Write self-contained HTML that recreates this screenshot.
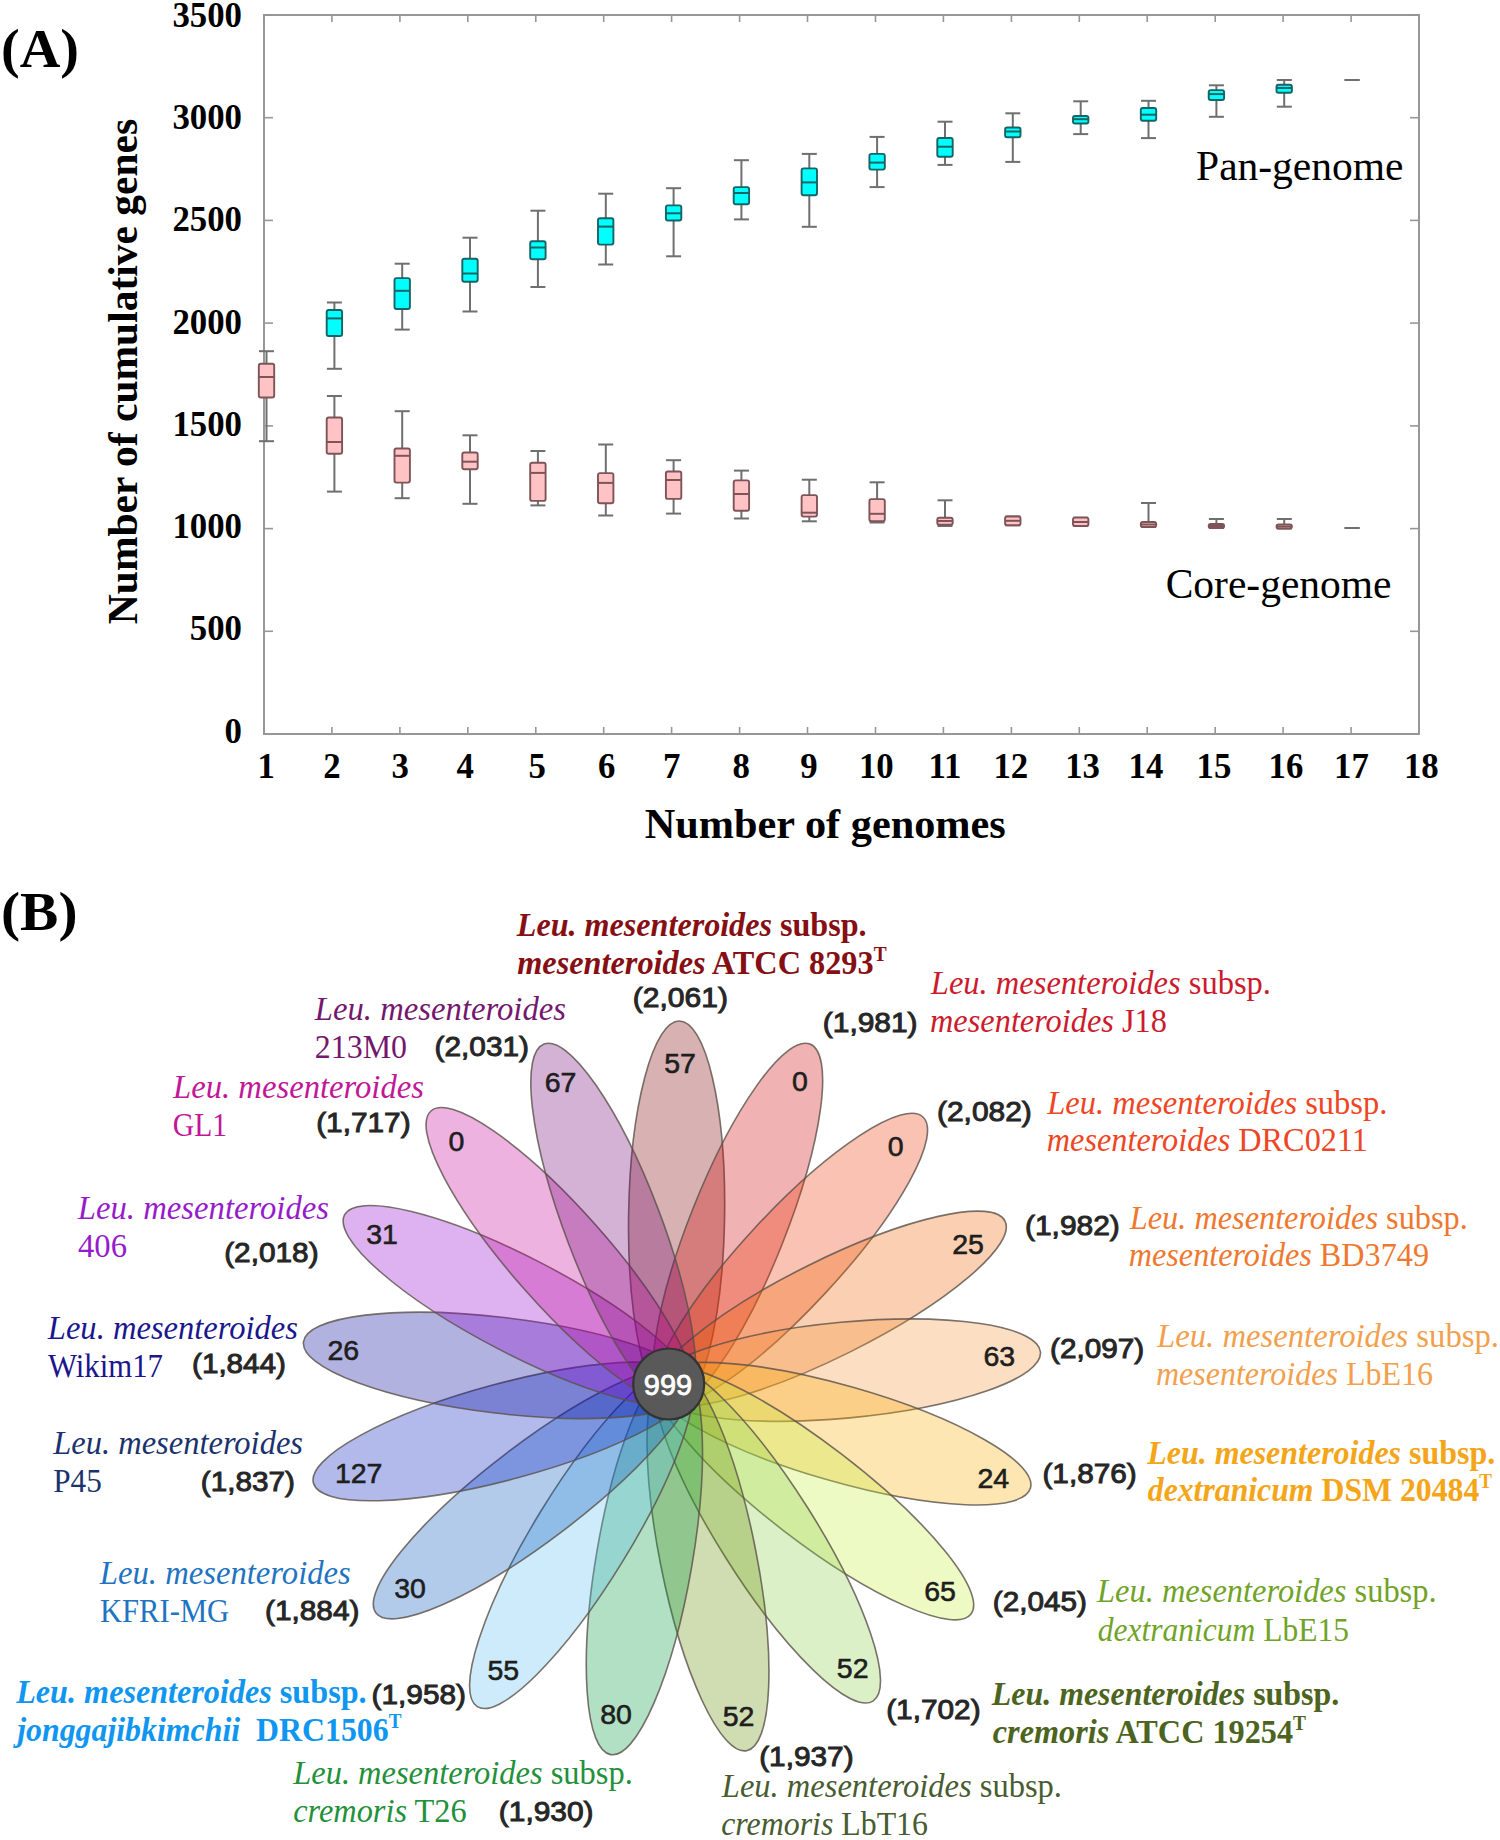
<!DOCTYPE html>
<html><head><meta charset="utf-8"><title>Pan-genome</title>
<style>
html,body{margin:0;padding:0;background:#fff;}
svg{display:block;}
.ser{font-family:"Liberation Serif",serif;}
.san{font-family:"Liberation Sans",sans-serif;}
</style></head><body>
<svg width="1500" height="1840" viewBox="0 0 1500 1840">
<rect width="1500" height="1840" fill="#fff"/>

<text class="ser" x="1" y="66.8" font-size="54.5" font-weight="bold" fill="#000" textLength="78" lengthAdjust="spacingAndGlyphs">(A)</text>
<rect x="264" y="15" width="1155" height="719" fill="none" stroke="#979797" stroke-width="2"/>
<line x1="264.0" y1="734" x2="264.0" y2="727" stroke="#979797" stroke-width="1.6"/>
<line x1="264.0" y1="15" x2="264.0" y2="22" stroke="#979797" stroke-width="1.6"/>
<text class="ser" x="266.3" y="778.2" font-size="34.8" font-weight="bold" text-anchor="middle">1</text>
<line x1="331.9" y1="734" x2="331.9" y2="727" stroke="#979797" stroke-width="1.6"/>
<line x1="331.9" y1="15" x2="331.9" y2="22" stroke="#979797" stroke-width="1.6"/>
<text class="ser" x="332.0" y="778.2" font-size="34.8" font-weight="bold" text-anchor="middle">2</text>
<line x1="399.9" y1="734" x2="399.9" y2="727" stroke="#979797" stroke-width="1.6"/>
<line x1="399.9" y1="15" x2="399.9" y2="22" stroke="#979797" stroke-width="1.6"/>
<text class="ser" x="400.2" y="778.2" font-size="34.8" font-weight="bold" text-anchor="middle">3</text>
<line x1="467.8" y1="734" x2="467.8" y2="727" stroke="#979797" stroke-width="1.6"/>
<line x1="467.8" y1="15" x2="467.8" y2="22" stroke="#979797" stroke-width="1.6"/>
<text class="ser" x="465.2" y="778.2" font-size="34.8" font-weight="bold" text-anchor="middle">4</text>
<line x1="535.8" y1="734" x2="535.8" y2="727" stroke="#979797" stroke-width="1.6"/>
<line x1="535.8" y1="15" x2="535.8" y2="22" stroke="#979797" stroke-width="1.6"/>
<text class="ser" x="537.2" y="778.2" font-size="34.8" font-weight="bold" text-anchor="middle">5</text>
<line x1="603.7" y1="734" x2="603.7" y2="727" stroke="#979797" stroke-width="1.6"/>
<line x1="603.7" y1="15" x2="603.7" y2="22" stroke="#979797" stroke-width="1.6"/>
<text class="ser" x="606.7" y="778.2" font-size="34.8" font-weight="bold" text-anchor="middle">6</text>
<line x1="671.6" y1="734" x2="671.6" y2="727" stroke="#979797" stroke-width="1.6"/>
<line x1="671.6" y1="15" x2="671.6" y2="22" stroke="#979797" stroke-width="1.6"/>
<text class="ser" x="671.7" y="778.2" font-size="34.8" font-weight="bold" text-anchor="middle">7</text>
<line x1="739.6" y1="734" x2="739.6" y2="727" stroke="#979797" stroke-width="1.6"/>
<line x1="739.6" y1="15" x2="739.6" y2="22" stroke="#979797" stroke-width="1.6"/>
<text class="ser" x="741.3" y="778.2" font-size="34.8" font-weight="bold" text-anchor="middle">8</text>
<line x1="807.5" y1="734" x2="807.5" y2="727" stroke="#979797" stroke-width="1.6"/>
<line x1="807.5" y1="15" x2="807.5" y2="22" stroke="#979797" stroke-width="1.6"/>
<text class="ser" x="808.9" y="778.2" font-size="34.8" font-weight="bold" text-anchor="middle">9</text>
<line x1="875.5" y1="734" x2="875.5" y2="727" stroke="#979797" stroke-width="1.6"/>
<line x1="875.5" y1="15" x2="875.5" y2="22" stroke="#979797" stroke-width="1.6"/>
<text class="ser" x="876.3" y="778.2" font-size="34.8" font-weight="bold" text-anchor="middle">10</text>
<line x1="943.4" y1="734" x2="943.4" y2="727" stroke="#979797" stroke-width="1.6"/>
<line x1="943.4" y1="15" x2="943.4" y2="22" stroke="#979797" stroke-width="1.6"/>
<text class="ser" x="944.9" y="778.2" font-size="34.8" font-weight="bold" text-anchor="middle">11</text>
<line x1="1011.4" y1="734" x2="1011.4" y2="727" stroke="#979797" stroke-width="1.6"/>
<line x1="1011.4" y1="15" x2="1011.4" y2="22" stroke="#979797" stroke-width="1.6"/>
<text class="ser" x="1010.8" y="778.2" font-size="34.8" font-weight="bold" text-anchor="middle">12</text>
<line x1="1079.3" y1="734" x2="1079.3" y2="727" stroke="#979797" stroke-width="1.6"/>
<line x1="1079.3" y1="15" x2="1079.3" y2="22" stroke="#979797" stroke-width="1.6"/>
<text class="ser" x="1082.6" y="778.2" font-size="34.8" font-weight="bold" text-anchor="middle">13</text>
<line x1="1147.2" y1="734" x2="1147.2" y2="727" stroke="#979797" stroke-width="1.6"/>
<line x1="1147.2" y1="15" x2="1147.2" y2="22" stroke="#979797" stroke-width="1.6"/>
<text class="ser" x="1146.0" y="778.2" font-size="34.8" font-weight="bold" text-anchor="middle">14</text>
<line x1="1215.2" y1="734" x2="1215.2" y2="727" stroke="#979797" stroke-width="1.6"/>
<line x1="1215.2" y1="15" x2="1215.2" y2="22" stroke="#979797" stroke-width="1.6"/>
<text class="ser" x="1214.0" y="778.2" font-size="34.8" font-weight="bold" text-anchor="middle">15</text>
<line x1="1283.1" y1="734" x2="1283.1" y2="727" stroke="#979797" stroke-width="1.6"/>
<line x1="1283.1" y1="15" x2="1283.1" y2="22" stroke="#979797" stroke-width="1.6"/>
<text class="ser" x="1285.9" y="778.2" font-size="34.8" font-weight="bold" text-anchor="middle">16</text>
<line x1="1351.1" y1="734" x2="1351.1" y2="727" stroke="#979797" stroke-width="1.6"/>
<line x1="1351.1" y1="15" x2="1351.1" y2="22" stroke="#979797" stroke-width="1.6"/>
<text class="ser" x="1351.4" y="778.2" font-size="34.8" font-weight="bold" text-anchor="middle">17</text>
<line x1="1419.0" y1="734" x2="1419.0" y2="727" stroke="#979797" stroke-width="1.6"/>
<line x1="1419.0" y1="15" x2="1419.0" y2="22" stroke="#979797" stroke-width="1.6"/>
<text class="ser" x="1421.3" y="778.2" font-size="34.8" font-weight="bold" text-anchor="middle">18</text>
<line x1="264" y1="734.0" x2="273" y2="734.0" stroke="#979797" stroke-width="1.6"/>
<line x1="1419" y1="734.0" x2="1410" y2="734.0" stroke="#979797" stroke-width="1.6"/>
<text class="ser" x="242" y="742.5" font-size="34.8" font-weight="bold" text-anchor="end">0</text>
<line x1="264" y1="631.3" x2="273" y2="631.3" stroke="#979797" stroke-width="1.6"/>
<line x1="1419" y1="631.3" x2="1410" y2="631.3" stroke="#979797" stroke-width="1.6"/>
<text class="ser" x="242" y="640.3" font-size="34.8" font-weight="bold" text-anchor="end">500</text>
<line x1="264" y1="528.6" x2="273" y2="528.6" stroke="#979797" stroke-width="1.6"/>
<line x1="1419" y1="528.6" x2="1410" y2="528.6" stroke="#979797" stroke-width="1.6"/>
<text class="ser" x="242" y="538.0" font-size="34.8" font-weight="bold" text-anchor="end">1000</text>
<line x1="264" y1="425.9" x2="273" y2="425.9" stroke="#979797" stroke-width="1.6"/>
<line x1="1419" y1="425.9" x2="1410" y2="425.9" stroke="#979797" stroke-width="1.6"/>
<text class="ser" x="242" y="435.8" font-size="34.8" font-weight="bold" text-anchor="end">1500</text>
<line x1="264" y1="323.1" x2="273" y2="323.1" stroke="#979797" stroke-width="1.6"/>
<line x1="1419" y1="323.1" x2="1410" y2="323.1" stroke="#979797" stroke-width="1.6"/>
<text class="ser" x="242" y="333.5" font-size="34.8" font-weight="bold" text-anchor="end">2000</text>
<line x1="264" y1="220.4" x2="273" y2="220.4" stroke="#979797" stroke-width="1.6"/>
<line x1="1419" y1="220.4" x2="1410" y2="220.4" stroke="#979797" stroke-width="1.6"/>
<text class="ser" x="242" y="231.3" font-size="34.8" font-weight="bold" text-anchor="end">2500</text>
<line x1="264" y1="117.7" x2="273" y2="117.7" stroke="#979797" stroke-width="1.6"/>
<line x1="1419" y1="117.7" x2="1410" y2="117.7" stroke="#979797" stroke-width="1.6"/>
<text class="ser" x="242" y="129.0" font-size="34.8" font-weight="bold" text-anchor="end">3000</text>
<line x1="264" y1="15.0" x2="273" y2="15.0" stroke="#979797" stroke-width="1.6"/>
<line x1="1419" y1="15.0" x2="1410" y2="15.0" stroke="#979797" stroke-width="1.6"/>
<text class="ser" x="242" y="26.8" font-size="34.8" font-weight="bold" text-anchor="end">3500</text>
<text class="ser" font-size="41.5" font-weight="bold" text-anchor="middle" transform="translate(136.5,371.5) rotate(-90)">Number of cumulative genes</text>
<text class="ser" x="825.3" y="837.5" font-size="42.3" font-weight="bold" text-anchor="middle">Number of genomes</text>
<text class="ser" x="1403.5" y="179.5" font-size="41.5" text-anchor="end">Pan-genome</text>
<text class="ser" x="1391.5" y="597.7" font-size="41.5" text-anchor="end">Core-genome</text>
<line x1="334.4" y1="302.5" x2="334.4" y2="310" stroke="#6f6f6f" stroke-width="2"/><line x1="334.4" y1="336" x2="334.4" y2="368.8" stroke="#6f6f6f" stroke-width="2"/><line x1="326.9" y1="302.5" x2="341.9" y2="302.5" stroke="#6f6f6f" stroke-width="2"/><line x1="326.9" y1="368.8" x2="341.9" y2="368.8" stroke="#6f6f6f" stroke-width="2"/><rect x="326.7" y="310" width="15.4" height="26.0" rx="2" fill="#00ffff" stroke="#166464" stroke-width="1.9"/><line x1="326.7" y1="318.4" x2="342.1" y2="318.4" stroke="#166464" stroke-width="2"/>
<line x1="402.2" y1="263.7" x2="402.2" y2="278.1" stroke="#6f6f6f" stroke-width="2"/><line x1="402.2" y1="309" x2="402.2" y2="329.6" stroke="#6f6f6f" stroke-width="2"/><line x1="394.7" y1="263.7" x2="409.7" y2="263.7" stroke="#6f6f6f" stroke-width="2"/><line x1="394.7" y1="329.6" x2="409.7" y2="329.6" stroke="#6f6f6f" stroke-width="2"/><rect x="394.5" y="278.1" width="15.4" height="30.9" rx="2" fill="#00ffff" stroke="#166464" stroke-width="1.9"/><line x1="394.5" y1="290.8" x2="409.9" y2="290.8" stroke="#166464" stroke-width="2"/>
<line x1="470.0" y1="237.7" x2="470.0" y2="258.7" stroke="#6f6f6f" stroke-width="2"/><line x1="470.0" y1="281.7" x2="470.0" y2="311.5" stroke="#6f6f6f" stroke-width="2"/><line x1="462.5" y1="237.7" x2="477.5" y2="237.7" stroke="#6f6f6f" stroke-width="2"/><line x1="462.5" y1="311.5" x2="477.5" y2="311.5" stroke="#6f6f6f" stroke-width="2"/><rect x="462.3" y="258.7" width="15.4" height="23.0" rx="2" fill="#00ffff" stroke="#166464" stroke-width="1.9"/><line x1="462.3" y1="273.5" x2="477.7" y2="273.5" stroke="#166464" stroke-width="2"/>
<line x1="537.9" y1="210.7" x2="537.9" y2="241.2" stroke="#6f6f6f" stroke-width="2"/><line x1="537.9" y1="259.2" x2="537.9" y2="287" stroke="#6f6f6f" stroke-width="2"/><line x1="530.4" y1="210.7" x2="545.4" y2="210.7" stroke="#6f6f6f" stroke-width="2"/><line x1="530.4" y1="287" x2="545.4" y2="287" stroke="#6f6f6f" stroke-width="2"/><rect x="530.2" y="241.2" width="15.4" height="18.0" rx="2" fill="#00ffff" stroke="#166464" stroke-width="1.9"/><line x1="530.2" y1="247.5" x2="545.6" y2="247.5" stroke="#166464" stroke-width="2"/>
<line x1="605.8" y1="193.7" x2="605.8" y2="218.2" stroke="#6f6f6f" stroke-width="2"/><line x1="605.8" y1="244.6" x2="605.8" y2="264.5" stroke="#6f6f6f" stroke-width="2"/><line x1="598.2" y1="193.7" x2="613.2" y2="193.7" stroke="#6f6f6f" stroke-width="2"/><line x1="598.2" y1="264.5" x2="613.2" y2="264.5" stroke="#6f6f6f" stroke-width="2"/><rect x="598.0" y="218.2" width="15.4" height="26.4" rx="2" fill="#00ffff" stroke="#166464" stroke-width="1.9"/><line x1="598.0" y1="226.6" x2="613.5" y2="226.6" stroke="#166464" stroke-width="2"/>
<line x1="673.6" y1="188.2" x2="673.6" y2="205.4" stroke="#6f6f6f" stroke-width="2"/><line x1="673.6" y1="220.5" x2="673.6" y2="256.3" stroke="#6f6f6f" stroke-width="2"/><line x1="666.1" y1="188.2" x2="681.1" y2="188.2" stroke="#6f6f6f" stroke-width="2"/><line x1="666.1" y1="256.3" x2="681.1" y2="256.3" stroke="#6f6f6f" stroke-width="2"/><rect x="665.9" y="205.4" width="15.4" height="15.1" rx="2" fill="#00ffff" stroke="#166464" stroke-width="1.9"/><line x1="665.9" y1="213.3" x2="681.3" y2="213.3" stroke="#166464" stroke-width="2"/>
<line x1="741.4" y1="160.2" x2="741.4" y2="187.1" stroke="#6f6f6f" stroke-width="2"/><line x1="741.4" y1="204.2" x2="741.4" y2="219.4" stroke="#6f6f6f" stroke-width="2"/><line x1="733.9" y1="160.2" x2="748.9" y2="160.2" stroke="#6f6f6f" stroke-width="2"/><line x1="733.9" y1="219.4" x2="748.9" y2="219.4" stroke="#6f6f6f" stroke-width="2"/><rect x="733.7" y="187.1" width="15.4" height="17.1" rx="2" fill="#00ffff" stroke="#166464" stroke-width="1.9"/><line x1="733.7" y1="193" x2="749.1" y2="193" stroke="#166464" stroke-width="2"/>
<line x1="809.3" y1="153.9" x2="809.3" y2="168.4" stroke="#6f6f6f" stroke-width="2"/><line x1="809.3" y1="195.3" x2="809.3" y2="226.8" stroke="#6f6f6f" stroke-width="2"/><line x1="801.8" y1="153.9" x2="816.8" y2="153.9" stroke="#6f6f6f" stroke-width="2"/><line x1="801.8" y1="226.8" x2="816.8" y2="226.8" stroke="#6f6f6f" stroke-width="2"/><rect x="801.6" y="168.4" width="15.4" height="26.9" rx="2" fill="#00ffff" stroke="#166464" stroke-width="1.9"/><line x1="801.6" y1="182.4" x2="817.0" y2="182.4" stroke="#166464" stroke-width="2"/>
<line x1="877.1" y1="136.9" x2="877.1" y2="153.9" stroke="#6f6f6f" stroke-width="2"/><line x1="877.1" y1="169.6" x2="877.1" y2="187.1" stroke="#6f6f6f" stroke-width="2"/><line x1="869.6" y1="136.9" x2="884.6" y2="136.9" stroke="#6f6f6f" stroke-width="2"/><line x1="869.6" y1="187.1" x2="884.6" y2="187.1" stroke="#6f6f6f" stroke-width="2"/><rect x="869.4" y="153.9" width="15.4" height="15.7" rx="2" fill="#00ffff" stroke="#166464" stroke-width="1.9"/><line x1="869.4" y1="162.6" x2="884.9" y2="162.6" stroke="#166464" stroke-width="2"/>
<line x1="945.0" y1="121.7" x2="945.0" y2="138" stroke="#6f6f6f" stroke-width="2"/><line x1="945.0" y1="156.7" x2="945.0" y2="164.9" stroke="#6f6f6f" stroke-width="2"/><line x1="937.5" y1="121.7" x2="952.5" y2="121.7" stroke="#6f6f6f" stroke-width="2"/><line x1="937.5" y1="164.9" x2="952.5" y2="164.9" stroke="#6f6f6f" stroke-width="2"/><rect x="937.3" y="138" width="15.4" height="18.7" rx="2" fill="#00ffff" stroke="#166464" stroke-width="1.9"/><line x1="937.3" y1="146.7" x2="952.7" y2="146.7" stroke="#166464" stroke-width="2"/>
<line x1="1012.8" y1="113.3" x2="1012.8" y2="127.5" stroke="#6f6f6f" stroke-width="2"/><line x1="1012.8" y1="137.3" x2="1012.8" y2="161.9" stroke="#6f6f6f" stroke-width="2"/><line x1="1005.3" y1="113.3" x2="1020.3" y2="113.3" stroke="#6f6f6f" stroke-width="2"/><line x1="1005.3" y1="161.9" x2="1020.3" y2="161.9" stroke="#6f6f6f" stroke-width="2"/><rect x="1005.1" y="127.5" width="15.4" height="9.8" rx="2" fill="#00ffff" stroke="#166464" stroke-width="1.9"/><line x1="1005.1" y1="131.5" x2="1020.5" y2="131.5" stroke="#166464" stroke-width="2"/>
<line x1="1080.7" y1="101.3" x2="1080.7" y2="116" stroke="#6f6f6f" stroke-width="2"/><line x1="1080.7" y1="123.5" x2="1080.7" y2="134.1" stroke="#6f6f6f" stroke-width="2"/><line x1="1073.2" y1="101.3" x2="1088.2" y2="101.3" stroke="#6f6f6f" stroke-width="2"/><line x1="1073.2" y1="134.1" x2="1088.2" y2="134.1" stroke="#6f6f6f" stroke-width="2"/><rect x="1073.0" y="116" width="15.4" height="7.5" rx="2" fill="#00ffff" stroke="#166464" stroke-width="1.9"/><line x1="1073.0" y1="119.2" x2="1088.4" y2="119.2" stroke="#166464" stroke-width="2"/>
<line x1="1148.5" y1="100.8" x2="1148.5" y2="108" stroke="#6f6f6f" stroke-width="2"/><line x1="1148.5" y1="120.8" x2="1148.5" y2="138.1" stroke="#6f6f6f" stroke-width="2"/><line x1="1141.0" y1="100.8" x2="1156.0" y2="100.8" stroke="#6f6f6f" stroke-width="2"/><line x1="1141.0" y1="138.1" x2="1156.0" y2="138.1" stroke="#6f6f6f" stroke-width="2"/><rect x="1140.8" y="108" width="15.4" height="12.8" rx="2" fill="#00ffff" stroke="#166464" stroke-width="1.9"/><line x1="1140.8" y1="114.7" x2="1156.2" y2="114.7" stroke="#166464" stroke-width="2"/>
<line x1="1216.4" y1="85.3" x2="1216.4" y2="90.1" stroke="#6f6f6f" stroke-width="2"/><line x1="1216.4" y1="100" x2="1216.4" y2="116.8" stroke="#6f6f6f" stroke-width="2"/><line x1="1208.9" y1="85.3" x2="1223.9" y2="85.3" stroke="#6f6f6f" stroke-width="2"/><line x1="1208.9" y1="116.8" x2="1223.9" y2="116.8" stroke="#6f6f6f" stroke-width="2"/><rect x="1208.7" y="90.1" width="15.4" height="9.9" rx="2" fill="#00ffff" stroke="#166464" stroke-width="1.9"/><line x1="1208.7" y1="94.1" x2="1224.1" y2="94.1" stroke="#166464" stroke-width="2"/>
<line x1="1284.2" y1="80" x2="1284.2" y2="84.8" stroke="#6f6f6f" stroke-width="2"/><line x1="1284.2" y1="92.8" x2="1284.2" y2="106.7" stroke="#6f6f6f" stroke-width="2"/><line x1="1276.8" y1="80" x2="1291.8" y2="80" stroke="#6f6f6f" stroke-width="2"/><line x1="1276.8" y1="106.7" x2="1291.8" y2="106.7" stroke="#6f6f6f" stroke-width="2"/><rect x="1276.5" y="84.8" width="15.4" height="8.0" rx="2" fill="#00ffff" stroke="#166464" stroke-width="1.9"/><line x1="1276.5" y1="88" x2="1292.0" y2="88" stroke="#166464" stroke-width="2"/>
<line x1="1344.6" y1="80" x2="1359.6" y2="80" stroke="#6f6f6f" stroke-width="2"/><line x1="1344.6" y1="80" x2="1359.6" y2="80" stroke="#6f6f6f" stroke-width="2"/>
<line x1="266.5" y1="351.2" x2="266.5" y2="363.8" stroke="#6f6f6f" stroke-width="2"/><line x1="266.5" y1="397.5" x2="266.5" y2="441.2" stroke="#6f6f6f" stroke-width="2"/><line x1="259.0" y1="351.2" x2="274.0" y2="351.2" stroke="#6f6f6f" stroke-width="2"/><line x1="259.0" y1="441.2" x2="274.0" y2="441.2" stroke="#6f6f6f" stroke-width="2"/><rect x="258.8" y="363.8" width="15.4" height="33.7" rx="2" fill="#ffc3c6" stroke="#7e5458" stroke-width="1.9"/><line x1="258.8" y1="377" x2="274.2" y2="377" stroke="#7e5458" stroke-width="2"/>
<line x1="334.4" y1="396" x2="334.4" y2="417.5" stroke="#6f6f6f" stroke-width="2"/><line x1="334.4" y1="453.7" x2="334.4" y2="491.6" stroke="#6f6f6f" stroke-width="2"/><line x1="326.9" y1="396" x2="341.9" y2="396" stroke="#6f6f6f" stroke-width="2"/><line x1="326.9" y1="491.6" x2="341.9" y2="491.6" stroke="#6f6f6f" stroke-width="2"/><rect x="326.7" y="417.5" width="15.4" height="36.2" rx="2" fill="#ffc3c6" stroke="#7e5458" stroke-width="1.9"/><line x1="326.7" y1="442" x2="342.1" y2="442" stroke="#7e5458" stroke-width="2"/>
<line x1="402.2" y1="411.2" x2="402.2" y2="448.5" stroke="#6f6f6f" stroke-width="2"/><line x1="402.2" y1="482.6" x2="402.2" y2="498.2" stroke="#6f6f6f" stroke-width="2"/><line x1="394.7" y1="411.2" x2="409.7" y2="411.2" stroke="#6f6f6f" stroke-width="2"/><line x1="394.7" y1="498.2" x2="409.7" y2="498.2" stroke="#6f6f6f" stroke-width="2"/><rect x="394.5" y="448.5" width="15.4" height="34.1" rx="2" fill="#ffc3c6" stroke="#7e5458" stroke-width="1.9"/><line x1="394.5" y1="455.8" x2="409.9" y2="455.8" stroke="#7e5458" stroke-width="2"/>
<line x1="470.0" y1="435.3" x2="470.0" y2="452.5" stroke="#6f6f6f" stroke-width="2"/><line x1="470.0" y1="469.2" x2="470.0" y2="503.8" stroke="#6f6f6f" stroke-width="2"/><line x1="462.5" y1="435.3" x2="477.5" y2="435.3" stroke="#6f6f6f" stroke-width="2"/><line x1="462.5" y1="503.8" x2="477.5" y2="503.8" stroke="#6f6f6f" stroke-width="2"/><rect x="462.3" y="452.5" width="15.4" height="16.7" rx="2" fill="#ffc3c6" stroke="#7e5458" stroke-width="1.9"/><line x1="462.3" y1="461.7" x2="477.7" y2="461.7" stroke="#7e5458" stroke-width="2"/>
<line x1="537.9" y1="451" x2="537.9" y2="462.7" stroke="#6f6f6f" stroke-width="2"/><line x1="537.9" y1="500.9" x2="537.9" y2="505.4" stroke="#6f6f6f" stroke-width="2"/><line x1="530.4" y1="451" x2="545.4" y2="451" stroke="#6f6f6f" stroke-width="2"/><line x1="530.4" y1="505.4" x2="545.4" y2="505.4" stroke="#6f6f6f" stroke-width="2"/><rect x="530.2" y="462.7" width="15.4" height="38.2" rx="2" fill="#ffc3c6" stroke="#7e5458" stroke-width="1.9"/><line x1="530.2" y1="472.9" x2="545.6" y2="472.9" stroke="#7e5458" stroke-width="2"/>
<line x1="605.8" y1="444.5" x2="605.8" y2="473.1" stroke="#6f6f6f" stroke-width="2"/><line x1="605.8" y1="503.2" x2="605.8" y2="515.5" stroke="#6f6f6f" stroke-width="2"/><line x1="598.2" y1="444.5" x2="613.2" y2="444.5" stroke="#6f6f6f" stroke-width="2"/><line x1="598.2" y1="515.5" x2="613.2" y2="515.5" stroke="#6f6f6f" stroke-width="2"/><rect x="598.0" y="473.1" width="15.4" height="30.1" rx="2" fill="#ffc3c6" stroke="#7e5458" stroke-width="1.9"/><line x1="598.0" y1="482.9" x2="613.5" y2="482.9" stroke="#7e5458" stroke-width="2"/>
<line x1="673.6" y1="460.2" x2="673.6" y2="471.5" stroke="#6f6f6f" stroke-width="2"/><line x1="673.6" y1="498.9" x2="673.6" y2="513.6" stroke="#6f6f6f" stroke-width="2"/><line x1="666.1" y1="460.2" x2="681.1" y2="460.2" stroke="#6f6f6f" stroke-width="2"/><line x1="666.1" y1="513.6" x2="681.1" y2="513.6" stroke="#6f6f6f" stroke-width="2"/><rect x="665.9" y="471.5" width="15.4" height="27.4" rx="2" fill="#ffc3c6" stroke="#7e5458" stroke-width="1.9"/><line x1="665.9" y1="480" x2="681.3" y2="480" stroke="#7e5458" stroke-width="2"/>
<line x1="741.4" y1="470.6" x2="741.4" y2="480.4" stroke="#6f6f6f" stroke-width="2"/><line x1="741.4" y1="510.8" x2="741.4" y2="518.5" stroke="#6f6f6f" stroke-width="2"/><line x1="733.9" y1="470.6" x2="748.9" y2="470.6" stroke="#6f6f6f" stroke-width="2"/><line x1="733.9" y1="518.5" x2="748.9" y2="518.5" stroke="#6f6f6f" stroke-width="2"/><rect x="733.7" y="480.4" width="15.4" height="30.4" rx="2" fill="#ffc3c6" stroke="#7e5458" stroke-width="1.9"/><line x1="733.7" y1="494" x2="749.1" y2="494" stroke="#7e5458" stroke-width="2"/>
<line x1="809.3" y1="479.7" x2="809.3" y2="495.1" stroke="#6f6f6f" stroke-width="2"/><line x1="809.3" y1="516.6" x2="809.3" y2="521.3" stroke="#6f6f6f" stroke-width="2"/><line x1="801.8" y1="479.7" x2="816.8" y2="479.7" stroke="#6f6f6f" stroke-width="2"/><line x1="801.8" y1="521.3" x2="816.8" y2="521.3" stroke="#6f6f6f" stroke-width="2"/><rect x="801.6" y="495.1" width="15.4" height="21.5" rx="2" fill="#ffc3c6" stroke="#7e5458" stroke-width="1.9"/><line x1="801.6" y1="512.7" x2="817.0" y2="512.7" stroke="#7e5458" stroke-width="2"/>
<line x1="877.1" y1="482.3" x2="877.1" y2="499.1" stroke="#6f6f6f" stroke-width="2"/><line x1="877.1" y1="521.3" x2="877.1" y2="522.5" stroke="#6f6f6f" stroke-width="2"/><line x1="869.6" y1="482.3" x2="884.6" y2="482.3" stroke="#6f6f6f" stroke-width="2"/><line x1="869.6" y1="522.5" x2="884.6" y2="522.5" stroke="#6f6f6f" stroke-width="2"/><rect x="869.4" y="499.1" width="15.4" height="22.2" rx="2" fill="#ffc3c6" stroke="#7e5458" stroke-width="1.9"/><line x1="869.4" y1="513.8" x2="884.9" y2="513.8" stroke="#7e5458" stroke-width="2"/>
<line x1="945.0" y1="500.3" x2="945.0" y2="517.8" stroke="#6f6f6f" stroke-width="2"/><line x1="945.0" y1="524.8" x2="945.0" y2="526" stroke="#6f6f6f" stroke-width="2"/><line x1="937.5" y1="500.3" x2="952.5" y2="500.3" stroke="#6f6f6f" stroke-width="2"/><line x1="937.5" y1="526" x2="952.5" y2="526" stroke="#6f6f6f" stroke-width="2"/><rect x="937.3" y="517.8" width="15.4" height="7.0" rx="2" fill="#ffc3c6" stroke="#7e5458" stroke-width="1.9"/><line x1="937.3" y1="521" x2="952.7" y2="521" stroke="#7e5458" stroke-width="2"/>
<line x1="1005.3" y1="516.5" x2="1020.3" y2="516.5" stroke="#6f6f6f" stroke-width="2"/><line x1="1005.3" y1="525.3" x2="1020.3" y2="525.3" stroke="#6f6f6f" stroke-width="2"/><rect x="1005.1" y="516.5" width="15.4" height="8.8" rx="2" fill="#ffc3c6" stroke="#7e5458" stroke-width="1.9"/><line x1="1005.1" y1="520.8" x2="1020.5" y2="520.8" stroke="#7e5458" stroke-width="2"/>
<line x1="1073.2" y1="517.6" x2="1088.2" y2="517.6" stroke="#6f6f6f" stroke-width="2"/><line x1="1073.2" y1="526" x2="1088.2" y2="526" stroke="#6f6f6f" stroke-width="2"/><rect x="1073.0" y="517.6" width="15.4" height="8.4" rx="2" fill="#ffc3c6" stroke="#7e5458" stroke-width="1.9"/><line x1="1073.0" y1="522" x2="1088.4" y2="522" stroke="#7e5458" stroke-width="2"/>
<line x1="1148.5" y1="503" x2="1148.5" y2="522" stroke="#6f6f6f" stroke-width="2"/><line x1="1141.0" y1="503" x2="1156.0" y2="503" stroke="#6f6f6f" stroke-width="2"/><line x1="1141.0" y1="527" x2="1156.0" y2="527" stroke="#6f6f6f" stroke-width="2"/><rect x="1140.8" y="522" width="15.4" height="5.0" rx="2" fill="#ffc3c6" stroke="#7e5458" stroke-width="1.9"/><line x1="1140.8" y1="524.5" x2="1156.2" y2="524.5" stroke="#7e5458" stroke-width="2"/>
<line x1="1216.4" y1="519" x2="1216.4" y2="524" stroke="#6f6f6f" stroke-width="2"/><line x1="1208.9" y1="519" x2="1223.9" y2="519" stroke="#6f6f6f" stroke-width="2"/><line x1="1208.9" y1="528" x2="1223.9" y2="528" stroke="#6f6f6f" stroke-width="2"/><rect x="1208.7" y="524" width="15.4" height="4.0" rx="2" fill="#ffc3c6" stroke="#7e5458" stroke-width="1.9"/><line x1="1208.7" y1="526" x2="1224.1" y2="526" stroke="#7e5458" stroke-width="2"/>
<line x1="1284.2" y1="519" x2="1284.2" y2="524.5" stroke="#6f6f6f" stroke-width="2"/><line x1="1276.8" y1="519" x2="1291.8" y2="519" stroke="#6f6f6f" stroke-width="2"/><line x1="1276.8" y1="528.5" x2="1291.8" y2="528.5" stroke="#6f6f6f" stroke-width="2"/><rect x="1276.5" y="524.5" width="15.4" height="4.0" rx="2" fill="#ffc3c6" stroke="#7e5458" stroke-width="1.9"/><line x1="1276.5" y1="526.5" x2="1292.0" y2="526.5" stroke="#7e5458" stroke-width="2"/>
<line x1="1344.6" y1="528" x2="1359.6" y2="528" stroke="#6f6f6f" stroke-width="2"/><line x1="1344.6" y1="528" x2="1359.6" y2="528" stroke="#6f6f6f" stroke-width="2"/>
<text class="ser" x="1" y="929.5" font-size="54.5" font-weight="bold" fill="#000" textLength="76.5" lengthAdjust="spacingAndGlyphs">(B)</text>
<ellipse cx="676.6" cy="1215.5" rx="194.5" ry="48" transform="rotate(-89.14 676.6 1215.5)" fill="#7d0000" fill-opacity="0.3" stroke="#5a5048" stroke-opacity="0.8" stroke-width="1.6"/>
<ellipse cx="737.6" cy="1226.2" rx="196.0" ry="48" transform="rotate(-68.31 737.6 1226.2)" fill="#cd0000" fill-opacity="0.3" stroke="#5a5048" stroke-opacity="0.8" stroke-width="1.6"/>
<ellipse cx="790.3" cy="1260.3" rx="195.3" ry="48" transform="rotate(-47.21 790.3 1260.3)" fill="#ee3402" fill-opacity="0.3" stroke="#5a5048" stroke-opacity="0.8" stroke-width="1.6"/>
<ellipse cx="828.8" cy="1308.9" rx="196.9" ry="48" transform="rotate(-26.50 828.8 1308.9)" fill="#f26200" fill-opacity="0.3" stroke="#5a5048" stroke-opacity="0.8" stroke-width="1.6"/>
<ellipse cx="845.3" cy="1370.1" rx="196.0" ry="48" transform="rotate(-5.30 845.3 1370.1)" fill="#f59437" fill-opacity="0.3" stroke="#5a5048" stroke-opacity="0.8" stroke-width="1.6"/>
<ellipse cx="840.7" cy="1433.7" rx="197.4" ry="48" transform="rotate(15.97 840.7 1433.7)" fill="#f8ac00" fill-opacity="0.3" stroke="#5a5048" stroke-opacity="0.8" stroke-width="1.6"/>
<ellipse cx="813.0" cy="1492.7" rx="199.2" ry="48" transform="rotate(37.51 813.0 1492.7)" fill="#c6ee3a" fill-opacity="0.3" stroke="#5a5048" stroke-opacity="0.8" stroke-width="1.6"/>
<ellipse cx="767.1" cy="1533.4" rx="198.3" ry="48" transform="rotate(57.72 767.1 1533.4)" fill="#8acd48" fill-opacity="0.3" stroke="#5a5048" stroke-opacity="0.8" stroke-width="1.6"/>
<ellipse cx="708.0" cy="1556.6" rx="197.9" ry="48" transform="rotate(78.73 708.0 1556.6)" fill="#628a00" fill-opacity="0.3" stroke="#5a5048" stroke-opacity="0.8" stroke-width="1.6"/>
<ellipse cx="644.4" cy="1558.5" rx="199.0" ry="48" transform="rotate(99.74 644.4 1558.5)" fill="#00983a" fill-opacity="0.3" stroke="#5a5048" stroke-opacity="0.8" stroke-width="1.6"/>
<ellipse cx="581.9" cy="1536.1" rx="200.1" ry="48" transform="rotate(121.52 581.9 1536.1)" fill="#58bcee" fill-opacity="0.3" stroke="#5a5048" stroke-opacity="0.8" stroke-width="1.6"/>
<ellipse cx="534.5" cy="1492.2" rx="199.3" ry="48" transform="rotate(142.70 534.5 1492.2)" fill="#0052bc" fill-opacity="0.3" stroke="#5a5048" stroke-opacity="0.8" stroke-width="1.6"/>
<ellipse cx="505.3" cy="1431.4" rx="198.7" ry="48" transform="rotate(164.94 505.3 1431.4)" fill="#001cc0" fill-opacity="0.3" stroke="#5a5048" stroke-opacity="0.8" stroke-width="1.6"/>
<ellipse cx="500.7" cy="1365.4" rx="198.6" ry="48" transform="rotate(-173.23 500.7 1365.4)" fill="#000098" fill-opacity="0.3" stroke="#5a5048" stroke-opacity="0.8" stroke-width="1.6"/>
<ellipse cx="519.9" cy="1306.0" rx="197.6" ry="48" transform="rotate(-152.57 519.9 1306.0)" fill="#9100cd" fill-opacity="0.3" stroke="#5a5048" stroke-opacity="0.8" stroke-width="1.6"/>
<ellipse cx="560.4" cy="1257.5" rx="195.5" ry="48" transform="rotate(-131.46 560.4 1257.5)" fill="#c60098" fill-opacity="0.3" stroke="#5a5048" stroke-opacity="0.8" stroke-width="1.6"/>
<ellipse cx="613.3" cy="1226.2" rx="194.9" ry="48" transform="rotate(-110.81 613.3 1226.2)" fill="#6c0073" fill-opacity="0.3" stroke="#5a5048" stroke-opacity="0.8" stroke-width="1.6"/>
<circle cx="668.7" cy="1384" r="35.5" fill="#595959" stroke="#333" stroke-width="2.2"/>
<text class="san" x="668" y="1395.3" font-size="29" fill="#fff" stroke="#fff" stroke-width="0.8" text-anchor="middle">999</text>
<text class="san" x="680" y="1073.0" font-size="28.5" fill="#1e1e1e" stroke="#1e1e1e" stroke-width="0.6" text-anchor="middle">57</text>
<text class="san" x="800" y="1091.2" font-size="28.5" fill="#1e1e1e" stroke="#1e1e1e" stroke-width="0.6" text-anchor="middle">0</text>
<text class="san" x="895.7" y="1155.5" font-size="28.5" fill="#1e1e1e" stroke="#1e1e1e" stroke-width="0.6" text-anchor="middle">0</text>
<text class="san" x="968" y="1253.5" font-size="28.5" fill="#1e1e1e" stroke="#1e1e1e" stroke-width="0.6" text-anchor="middle">25</text>
<text class="san" x="999.3" y="1365.9" font-size="28.5" fill="#1e1e1e" stroke="#1e1e1e" stroke-width="0.6" text-anchor="middle">63</text>
<text class="san" x="993.3" y="1487.5" font-size="28.5" fill="#1e1e1e" stroke="#1e1e1e" stroke-width="0.6" text-anchor="middle">24</text>
<text class="san" x="940" y="1600.9" font-size="28.5" fill="#1e1e1e" stroke="#1e1e1e" stroke-width="0.6" text-anchor="middle">65</text>
<text class="san" x="852.7" y="1678.2" font-size="28.5" fill="#1e1e1e" stroke="#1e1e1e" stroke-width="0.6" text-anchor="middle">52</text>
<text class="san" x="738.5" y="1725.7" font-size="28.5" fill="#1e1e1e" stroke="#1e1e1e" stroke-width="0.6" text-anchor="middle">52</text>
<text class="san" x="616" y="1724.0" font-size="28.5" fill="#1e1e1e" stroke="#1e1e1e" stroke-width="0.6" text-anchor="middle">80</text>
<text class="san" x="503.3" y="1680.4" font-size="28.5" fill="#1e1e1e" stroke="#1e1e1e" stroke-width="0.6" text-anchor="middle">55</text>
<text class="san" x="410" y="1597.5" font-size="28.5" fill="#1e1e1e" stroke="#1e1e1e" stroke-width="0.6" text-anchor="middle">30</text>
<text class="san" x="358.7" y="1483.0" font-size="28.5" fill="#1e1e1e" stroke="#1e1e1e" stroke-width="0.6" text-anchor="middle">127</text>
<text class="san" x="343.3" y="1360.2" font-size="28.5" fill="#1e1e1e" stroke="#1e1e1e" stroke-width="0.6" text-anchor="middle">26</text>
<text class="san" x="382" y="1243.5" font-size="28.5" fill="#1e1e1e" stroke="#1e1e1e" stroke-width="0.6" text-anchor="middle">31</text>
<text class="san" x="456.4" y="1150.6" font-size="28.5" fill="#1e1e1e" stroke="#1e1e1e" stroke-width="0.6" text-anchor="middle">0</text>
<text class="san" x="560.5" y="1092.2" font-size="28.5" fill="#1e1e1e" stroke="#1e1e1e" stroke-width="0.6" text-anchor="middle">67</text>
<text class="san" x="632.8" y="1006.6" font-size="28.5" fill="#262626" stroke="#262626" stroke-width="1.0" textLength="95.2" lengthAdjust="spacingAndGlyphs">(2,061)</text>
<text class="san" x="822.8" y="1031.6" font-size="28.5" fill="#262626" stroke="#262626" stroke-width="1.0" textLength="94.8" lengthAdjust="spacingAndGlyphs">(1,981)</text>
<text class="san" x="937.0" y="1120.8" font-size="28.5" fill="#262626" stroke="#262626" stroke-width="1.0" textLength="94.8" lengthAdjust="spacingAndGlyphs">(2,082)</text>
<text class="san" x="1025.0" y="1234.6" font-size="28.5" fill="#262626" stroke="#262626" stroke-width="1.0" textLength="94.8" lengthAdjust="spacingAndGlyphs">(1,982)</text>
<text class="san" x="1050.1" y="1358.3" font-size="28.5" fill="#262626" stroke="#262626" stroke-width="1.0" textLength="94.1" lengthAdjust="spacingAndGlyphs">(2,097)</text>
<text class="san" x="1042.4" y="1483.0" font-size="28.5" fill="#262626" stroke="#262626" stroke-width="1.0" textLength="94.4" lengthAdjust="spacingAndGlyphs">(1,876)</text>
<text class="san" x="992.8" y="1611.2" font-size="28.5" fill="#262626" stroke="#262626" stroke-width="1.0" textLength="94.0" lengthAdjust="spacingAndGlyphs">(2,045)</text>
<text class="san" x="886.2" y="1718.8" font-size="28.5" fill="#262626" stroke="#262626" stroke-width="1.0" textLength="94.4" lengthAdjust="spacingAndGlyphs">(1,702)</text>
<text class="san" x="759.2" y="1765.8" font-size="28.5" fill="#262626" stroke="#262626" stroke-width="1.0" textLength="94.4" lengthAdjust="spacingAndGlyphs">(1,937)</text>
<text class="san" x="498.8" y="1820.8" font-size="28.5" fill="#262626" stroke="#262626" stroke-width="1.0" textLength="94.8" lengthAdjust="spacingAndGlyphs">(1,930)</text>
<text class="san" x="371.6" y="1704.4" font-size="28.5" fill="#262626" stroke="#262626" stroke-width="1.0" textLength="94.4" lengthAdjust="spacingAndGlyphs">(1,958)</text>
<text class="san" x="265.0" y="1620.0" font-size="28.5" fill="#262626" stroke="#262626" stroke-width="1.0" textLength="94.4" lengthAdjust="spacingAndGlyphs">(1,884)</text>
<text class="san" x="200.8" y="1491.2" font-size="28.5" fill="#262626" stroke="#262626" stroke-width="1.0" textLength="94.0" lengthAdjust="spacingAndGlyphs">(1,837)</text>
<text class="san" x="192.0" y="1373.2" font-size="28.5" fill="#262626" stroke="#262626" stroke-width="1.0" textLength="94.0" lengthAdjust="spacingAndGlyphs">(1,844)</text>
<text class="san" x="224.2" y="1262.0" font-size="28.5" fill="#262626" stroke="#262626" stroke-width="1.0" textLength="94.4" lengthAdjust="spacingAndGlyphs">(2,018)</text>
<text class="san" x="316.2" y="1132.0" font-size="28.5" fill="#262626" stroke="#262626" stroke-width="1.0" textLength="94.4" lengthAdjust="spacingAndGlyphs">(1,717)</text>
<text class="san" x="434.6" y="1056.2" font-size="28.5" fill="#262626" stroke="#262626" stroke-width="1.0" textLength="94.4" lengthAdjust="spacingAndGlyphs">(2,031)</text>
<!-- labels-start -->
<text class="ser" x="516.80" y="935.7" font-weight="bold" fill="#860f14" textLength="349.80" lengthAdjust="spacingAndGlyphs"><tspan font-style="italic" font-size="33.5">Leu. mesenteroides</tspan><tspan font-size="33.5"> subsp.</tspan></text>
<text class="ser" x="517.20" y="973.7" font-weight="bold" fill="#860f14" textLength="369.40" lengthAdjust="spacingAndGlyphs"><tspan font-style="italic" font-size="33.5">mesenteroides</tspan><tspan font-size="33.5"> ATCC 8293</tspan><tspan font-size="20.1" dy="-13">T</tspan></text>
<text class="ser" x="930.80" y="994.3" fill="#cc1b2d" textLength="340.20" lengthAdjust="spacingAndGlyphs"><tspan font-style="italic" font-size="33.5">Leu. mesenteroides</tspan><tspan font-size="33.5"> subsp.</tspan></text>
<text class="ser" x="930.00" y="1031.7" fill="#cc1b2d" textLength="237.00" lengthAdjust="spacingAndGlyphs"><tspan font-style="italic" font-size="33.5">mesenteroides</tspan><tspan font-size="33.5"> J18</tspan></text>
<text class="ser" x="1047.20" y="1113.7" fill="#ee4624" textLength="340.20" lengthAdjust="spacingAndGlyphs"><tspan font-style="italic" font-size="33.5">Leu. mesenteroides</tspan><tspan font-size="33.5"> subsp.</tspan></text>
<text class="ser" x="1046.80" y="1151.3" fill="#ee4624" textLength="321.20" lengthAdjust="spacingAndGlyphs"><tspan font-style="italic" font-size="33.5">mesenteroides</tspan><tspan font-size="33.5"> DRC0211</tspan></text>
<text class="ser" x="1129.80" y="1229" fill="#ef782e" textLength="338.00" lengthAdjust="spacingAndGlyphs"><tspan font-style="italic" font-size="33.5">Leu. mesenteroides</tspan><tspan font-size="33.5"> subsp.</tspan></text>
<text class="ser" x="1128.80" y="1266.3" fill="#ef782e" textLength="300.20" lengthAdjust="spacingAndGlyphs"><tspan font-style="italic" font-size="33.5">mesenteroides</tspan><tspan font-size="33.5"> BD3749</tspan></text>
<text class="ser" x="1157.00" y="1346.7" fill="#f29f4e" textLength="342.00" lengthAdjust="spacingAndGlyphs"><tspan font-style="italic" font-size="33.5">Leu. mesenteroides</tspan><tspan font-size="33.5"> subsp.</tspan></text>
<text class="ser" x="1156.00" y="1385" fill="#f29f4e" textLength="277.00" lengthAdjust="spacingAndGlyphs"><tspan font-style="italic" font-size="33.5">mesenteroides</tspan><tspan font-size="33.5"> LbE16</tspan></text>
<text class="ser" x="1147.20" y="1463.7" font-weight="bold" fill="#f4a518" textLength="348.00" lengthAdjust="spacingAndGlyphs"><tspan font-style="italic" font-size="33.5">Leu. mesenteroides</tspan><tspan font-size="33.5"> subsp.</tspan></text>
<text class="ser" x="1147.80" y="1501.3" font-weight="bold" fill="#f4a518" textLength="344.20" lengthAdjust="spacingAndGlyphs"><tspan font-style="italic" font-size="33.5">dextranicum</tspan><tspan font-size="33.5"> DSM 20484</tspan><tspan font-size="20.1" dy="-13">T</tspan></text>
<text class="ser" x="1097.00" y="1602.3" fill="#70a327" textLength="339.60" lengthAdjust="spacingAndGlyphs"><tspan font-style="italic" font-size="33.5">Leu. mesenteroides</tspan><tspan font-size="33.5"> subsp.</tspan></text>
<text class="ser" x="1097.80" y="1640.7" fill="#70a327" textLength="251.20" lengthAdjust="spacingAndGlyphs"><tspan font-style="italic" font-size="33.5">dextranicum</tspan><tspan font-size="33.5"> LbE15</tspan></text>
<text class="ser" x="991.80" y="1704.7" font-weight="bold" fill="#4c6420" textLength="347.40" lengthAdjust="spacingAndGlyphs"><tspan font-style="italic" font-size="33.5">Leu. mesenteroides</tspan><tspan font-size="33.5"> subsp.</tspan></text>
<text class="ser" x="992.80" y="1743.3" font-weight="bold" fill="#4c6420" textLength="313.20" lengthAdjust="spacingAndGlyphs"><tspan font-style="italic" font-size="33.5">cremoris</tspan><tspan font-size="33.5"> ATCC 19254</tspan><tspan font-size="20.1" dy="-13">T</tspan></text>
<text class="ser" x="721.80" y="1796.7" fill="#485c30" textLength="340.20" lengthAdjust="spacingAndGlyphs"><tspan font-style="italic" font-size="33.5">Leu. mesenteroides</tspan><tspan font-size="33.5"> subsp.</tspan></text>
<text class="ser" x="721.20" y="1835" fill="#485c30" textLength="206.80" lengthAdjust="spacingAndGlyphs"><tspan font-style="italic" font-size="33.5">cremoris</tspan><tspan font-size="33.5"> LbT16</tspan></text>
<text class="ser" x="293.20" y="1783.7" fill="#23903a" textLength="339.60" lengthAdjust="spacingAndGlyphs"><tspan font-style="italic" font-size="33.5">Leu. mesenteroides</tspan><tspan font-size="33.5"> subsp.</tspan></text>
<text class="ser" x="293.20" y="1821.7" fill="#23903a" textLength="173.40" lengthAdjust="spacingAndGlyphs"><tspan font-style="italic" font-size="33.5">cremoris</tspan><tspan font-size="33.5"> T26</tspan></text>
<text class="ser" x="16.20" y="1703" font-weight="bold" fill="#0f96f0" textLength="350.40" lengthAdjust="spacingAndGlyphs"><tspan font-style="italic" font-size="33.5">Leu. mesenteroides</tspan><tspan font-size="33.5"> subsp.</tspan></text>
<text class="ser" x="17.20" y="1740.5" font-weight="bold" fill="#0f96f0" textLength="384.20" lengthAdjust="spacingAndGlyphs"><tspan font-style="italic" font-size="33.5">jonggajibkimchii</tspan><tspan font-size="33.5">  DRC1506</tspan><tspan font-size="20.1" dy="-13">T</tspan></text>
<text class="ser" x="99.80" y="1583.7" fill="#1f74c2" textLength="251.00" lengthAdjust="spacingAndGlyphs"><tspan font-style="italic" font-size="33.5">Leu. mesenteroides</tspan></text>
<text class="ser" x="100.00" y="1622" fill="#1f74c2" textLength="129.20" lengthAdjust="spacingAndGlyphs"><tspan font-size="33.5">KFRI-MG</tspan></text>
<text class="ser" x="53.20" y="1454" fill="#1a336e" textLength="249.80" lengthAdjust="spacingAndGlyphs"><tspan font-style="italic" font-size="33.5">Leu. mesenteroides</tspan></text>
<text class="ser" x="53.20" y="1492" fill="#1a336e" textLength="48.60" lengthAdjust="spacingAndGlyphs"><tspan font-size="33.5">P45</tspan></text>
<text class="ser" x="47.80" y="1339.3" fill="#1a168e" textLength="250.20" lengthAdjust="spacingAndGlyphs"><tspan font-style="italic" font-size="33.5">Leu. mesenteroides</tspan></text>
<text class="ser" x="48.00" y="1377.3" fill="#1a168e" textLength="115.00" lengthAdjust="spacingAndGlyphs"><tspan font-size="33.5">Wikim17</tspan></text>
<text class="ser" x="77.80" y="1218.7" fill="#961ccb" textLength="251.20" lengthAdjust="spacingAndGlyphs"><tspan font-style="italic" font-size="33.5">Leu. mesenteroides</tspan></text>
<text class="ser" x="78.00" y="1256.7" fill="#961ccb" textLength="49.00" lengthAdjust="spacingAndGlyphs"><tspan font-size="33.5">406</tspan></text>
<text class="ser" x="173.00" y="1097.7" fill="#c01898" textLength="251.00" lengthAdjust="spacingAndGlyphs"><tspan font-style="italic" font-size="33.5">Leu. mesenteroides</tspan></text>
<text class="ser" x="172.80" y="1135.7" fill="#c01898" textLength="54.20" lengthAdjust="spacingAndGlyphs"><tspan font-size="33.5">GL1</tspan></text>
<text class="ser" x="314.80" y="1020" fill="#74176f" textLength="251.20" lengthAdjust="spacingAndGlyphs"><tspan font-style="italic" font-size="33.5">Leu. mesenteroides</tspan></text>
<text class="ser" x="314.80" y="1058.3" fill="#74176f" textLength="92.20" lengthAdjust="spacingAndGlyphs"><tspan font-size="33.5">213M0</tspan></text>
</svg>
</body></html>
